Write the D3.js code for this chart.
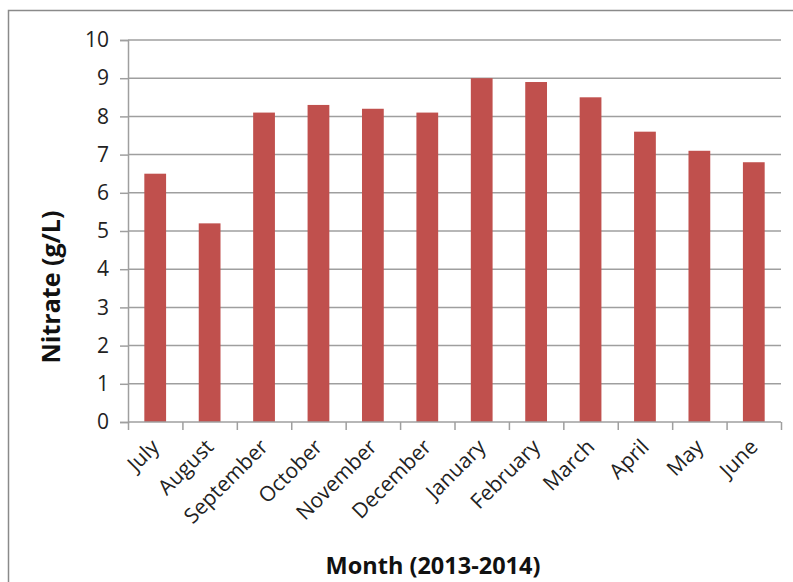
<!DOCTYPE html>
<html>
<head>
<meta charset="utf-8">
<script src="https://cdn.jsdelivr.net/npm/d3@7"></script>
<style>
  html, body { margin: 0; padding: 0; background: #fff; }
  svg { display: block; }
</style>
</head>
<body>
<svg id="chart" width="793" height="582"></svg>
<script>
// Monthly nitrate concentration, July 2013 – June 2014
const months = ["July", "August", "September", "October", "November", "December",
                "January", "February", "March", "April", "May", "June"];
const nitrate = [6.5, 5.2, 8.1, 8.3, 8.2, 8.1, 9.0, 8.9, 8.5, 7.6, 7.1, 6.8];
const yTicks = [0, 1, 2, 3, 4, 5, 6, 7, 8, 9, 10];

const svg = d3.select("#chart");
const font = "'Open Sans', 'Liberation Sans', sans-serif";

const plot = { left: 128, right: 781, top: 40, bottom: 422 };

const x = d3.scaleBand().domain(months).range([plot.left, plot.right]).paddingInner(0.6).paddingOuter(0.3);
const xTicksScale = d3.scaleLinear().domain([0, months.length]).range([plot.left, plot.right]);
const y = d3.scaleLinear().domain([0, 10]).range([plot.bottom, plot.top]);

// outer frame (top and left edges)
svg.append("path")
  .attr("d", `M8.5,${582} V10.5 H793`)
  .attr("fill", "none").attr("stroke", "#8a8a8a").attr("stroke-width", 1.5);

// horizontal gridlines
svg.append("g")
  .selectAll("line").data(yTicks.filter(d => d > 0)).join("line")
  .attr("x1", plot.left).attr("x2", plot.right)
  .attr("y1", d => y(d)).attr("y2", d => y(d))
  .attr("stroke", "#9f9f9f").attr("stroke-width", 1.5);

// y axis
const yAxis = svg.append("g")
  .attr("transform", `translate(${plot.left},0)`)
  .call(d3.axisLeft(y).tickValues(yTicks).tickSize(8).tickPadding(11));
yAxis.select(".domain").attr("stroke", "#9f9f9f").attr("stroke-width", 1.5);
yAxis.selectAll(".tick line").attr("stroke", "#9f9f9f").attr("stroke-width", 1.5);
yAxis.selectAll(".tick text")
  .attr("font-family", font).attr("font-size", 21).attr("fill", "#222");

// bars
svg.append("g")
  .selectAll("rect").data(months).join("rect")
  .attr("x", (d) => x(d))
  .attr("width", x.bandwidth())
  .attr("y", (d, i) => y(nitrate[i]))
  .attr("height", (d, i) => y(0) - y(nitrate[i]))
  .attr("fill", "#c0504d");

// x axis line with category boundary ticks
const xAxis = svg.append("g").attr("transform", `translate(0,${plot.bottom})`);
xAxis.call(d3.axisBottom(xTicksScale).tickValues(d3.range(months.length + 1)).tickSize(8).tickFormat(""));
xAxis.select(".domain").attr("stroke", "#9f9f9f").attr("stroke-width", 1.5)
  .attr("d", `M${plot.left},0H${plot.right}`);
xAxis.selectAll(".tick line").attr("stroke", "#9f9f9f").attr("stroke-width", 1.5);

// rotated month labels
svg.append("g")
  .selectAll("text").data(months).join("text")
  .attr("transform", d => `translate(${x(d) + x.bandwidth() / 2},${plot.bottom + 21}) rotate(-45)`)
  .attr("text-anchor", "end")
  .attr("dy", "0.35em")
  .attr("font-family", font).attr("font-size", 21).attr("fill", "#222")
  .text(d => d);

// axis titles
svg.append("text")
  .attr("transform", `translate(60,287) rotate(-90)`)
  .attr("text-anchor", "middle")
  .attr("font-family", font).attr("font-size", 25).attr("font-weight", "bold").attr("fill", "#111")
  .text("Nitrate (g/L)");

svg.append("text")
  .attr("x", 433).attr("y", 574)
  .attr("text-anchor", "middle")
  .attr("font-family", font).attr("font-size", 23.5).attr("font-weight", "bold").attr("fill", "#111")
  .text("Month (2013-2014)");
</script>
</body>
</html>
